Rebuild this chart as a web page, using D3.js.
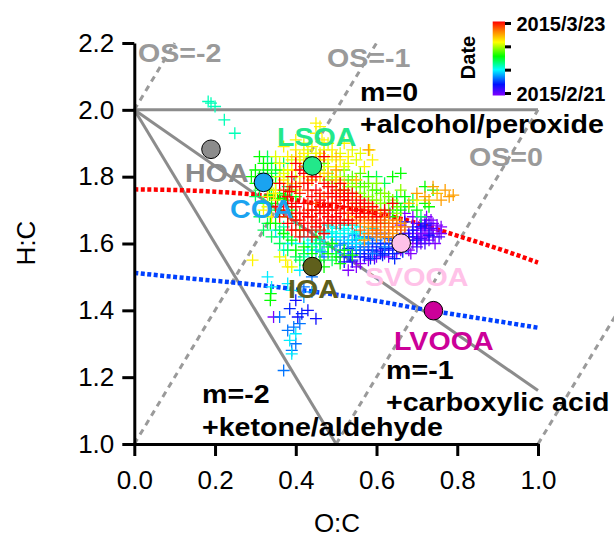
<!DOCTYPE html>
<html><head><meta charset="utf-8">
<script src="https://cdn.jsdelivr.net/npm/d3@7"></script>
<style>
body{margin:0;background:#fff}
svg{display:block;font-family:"Liberation Sans",Arial,sans-serif}
</style>
</head><body>
<svg id="chart" width="614" height="538"></svg>
<script>
// ---------------- data ----------------
const xTicks = [0.0, 0.2, 0.4, 0.6, 0.8, 1.0];
const yTicks = [1.0, 1.2, 1.4, 1.6, 1.8, 2.0, 2.2];
const xTitle = "O:C", yTitle = "H:C";

const factorNames  = ["HOA", "COA", "LSOA", "IOA", "SVOOA", "LVOOA"];
const factorOC     = [0.19, 0.32, 0.441, 0.441, 0.661, 0.741];
const factorHC     = [1.882, 1.783, 1.832, 1.531, 1.601, 1.399];
const factorColors = ["#8c8c8c", "#1aa3f0", "#22e88a", "#5f5f1c", "#ffc2e8", "#cc0099"];

// reference lines (O:C, H:C)
const slopeLines = [[[0, 2], [1, 2]], [[0, 2], [1, 1.16]], [[0, 2], [0.5, 1]]];
const osLines = [[[0, 2], [0.1, 2.2]], [[0, 1], [0.6, 2.2]], [[0.5, 1], [1.0, 2.0]], [[1.0, 1.0], [1.2, 1.4]]];
const redPath  = [[0,1.762],[0.1,1.760],[0.2,1.755],[0.31,1.745],[0.45,1.72],[0.6,1.69],[0.68,1.668],[0.75,1.642],[0.83,1.612],[0.92,1.577],[1.0,1.543]];
const bluePath = [[0,1.512],[0.15,1.494],[0.29,1.478],[0.45,1.455],[0.6,1.428],[0.72,1.402],[0.85,1.377],[1.0,1.348]];

const startDate = "2015-02-21", endDate = "2015-03-23";
const colorbarTickDays = [0, 10, 20, 30];

// scatter points by day offset from 2015/2/21 : [O:C, H:C]
const pts_day0 = [[0.70,1.64],[0.71,1.63],[0.72,1.65],[0.73,1.64],[0.74,1.63],[0.72,1.62],[0.70,1.62],[0.69,1.60],[0.71,1.60],[0.73,1.61],[0.75,1.64],[0.74,1.66],[0.72,1.67],[0.70,1.66],[0.68,1.63],[0.67,1.61],[0.66,1.58],[0.68,1.58],[0.65,1.57],[0.63,1.56],[0.60,1.56],[0.58,1.55],[0.56,1.54],[0.55,1.53],[0.53,1.52],[0.57,1.57],[0.61,1.58],[0.64,1.60],[0.735,1.67],[0.75,1.655],[0.76,1.63],[0.69,1.68],[0.67,1.69],[0.345,1.38],[0.66,1.655],[0.715,1.645],[0.725,1.625],[0.705,1.615],[0.724,1.68],[0.633,1.69],[0.745,1.60],[0.76,1.65],[0.685,1.57]];
const pts_day2 = [[0.69,1.65],[0.71,1.66],[0.73,1.66],[0.68,1.61],[0.70,1.59],[0.72,1.60],[0.74,1.62],[0.66,1.60],[0.64,1.585],[0.62,1.57],[0.595,1.555],[0.65,1.62],[0.67,1.63],[0.69,1.62],[0.71,1.615],[0.735,1.645],[0.755,1.62],[0.54,1.545],[0.56,1.56],[0.58,1.57]];
const pts_day4 = [[0.58,1.58],[0.60,1.59],[0.62,1.60],[0.64,1.61],[0.66,1.62],[0.68,1.62],[0.70,1.61],[0.61,1.57],[0.63,1.58],[0.57,1.56],[0.59,1.60],[0.65,1.59],[0.67,1.60],[0.69,1.64],[0.71,1.65],[0.62,1.63],[0.405,1.38],[0.45,1.375],[0.43,1.40],[0.40,1.43],[0.54,1.55],[0.52,1.545],[0.56,1.60],[0.72,1.655],[0.67,1.665],[0.73,1.625]];
const pts_day5 = [[0.56,1.57],[0.57,1.59],[0.59,1.58],[0.60,1.575],[0.62,1.585],[0.63,1.60],[0.61,1.60],[0.55,1.58],[0.53,1.585],[0.64,1.57],[0.66,1.59],[0.58,1.62],[0.60,1.63],[0.535,1.56],[0.51,1.56],[0.415,1.39],[0.385,1.405],[0.585,1.555],[0.615,1.565],[0.645,1.555],[0.665,1.575]];
const pts_day7 = [[0.52,1.60],[0.54,1.59],[0.56,1.58],[0.58,1.60],[0.60,1.61],[0.55,1.61],[0.57,1.62],[0.53,1.57],[0.59,1.57],[0.51,1.58],[0.62,1.59],[0.49,1.59],[0.47,1.56],[0.395,1.35],[0.40,1.30],[0.39,1.28],[0.38,1.34],[0.42,1.47],[0.44,1.50],[0.37,1.22],[0.36,1.38],[0.41,1.36],[0.61,1.62],[0.63,1.615],[0.545,1.625]];
const pts_day8 = [[0.50,1.61],[0.52,1.62],[0.53,1.60],[0.55,1.59],[0.57,1.60],[0.54,1.61],[0.56,1.62],[0.58,1.615],[0.49,1.62],[0.47,1.60],[0.45,1.58],[0.51,1.595],[0.465,1.575],[0.44,1.455],[0.42,1.44]];
const pts_day10 = [[0.48,1.63],[0.50,1.62],[0.52,1.64],[0.54,1.63],[0.56,1.65],[0.51,1.66],[0.53,1.61],[0.49,1.65],[0.46,1.61],[0.47,1.64],[0.55,1.60],[0.57,1.63],[0.45,1.60],[0.43,1.58],[0.41,1.52],[0.39,1.46],[0.38,1.48],[0.40,1.33],[0.385,1.31],[0.39,1.27],[0.33,1.50],[0.34,1.47],[0.36,1.62],[0.35,1.64],[0.38,1.60],[0.42,1.62],[0.59,1.645],[0.60,1.66]];
const pts_day11 = [[0.47,1.62],[0.49,1.635],[0.51,1.63],[0.53,1.645],[0.55,1.635],[0.50,1.645],[0.48,1.655],[0.52,1.655],[0.46,1.635],[0.44,1.61],[0.54,1.655],[0.56,1.615],[0.43,1.60],[0.40,1.60],[0.37,1.58]];
const pts_day12 = [[0.183,2.025],[0.20,2.01],[0.19,2.02],[0.223,1.97],[0.249,1.93],[0.42,1.56],[0.44,1.55],[0.46,1.58],[0.37,1.65],[0.40,1.66],[0.44,1.64],[0.50,1.57]];
const pts_day14 = [[0.31,1.76],[0.32,1.78],[0.30,1.74],[0.32,1.72],[0.31,1.68],[0.33,1.66],[0.32,1.64],[0.34,1.62],[0.36,1.60],[0.38,1.58],[0.40,1.56],[0.42,1.57],[0.44,1.59],[0.46,1.60],[0.48,1.59],[0.41,1.55],[0.45,1.545],[0.49,1.55],[0.35,1.70],[0.34,1.76],[0.33,1.79],[0.32,1.81],[0.35,1.81],[0.37,1.84],[0.34,1.84],[0.33,1.86],[0.38,1.77],[0.39,1.76],[0.36,1.64],[0.38,1.62],[0.61,1.70],[0.63,1.72],[0.65,1.74],[0.67,1.72],[0.69,1.73],[0.62,1.78],[0.60,1.80],[0.71,1.68],[0.64,1.70]];
const pts_day16 = [[0.30,1.82],[0.31,1.80],[0.32,1.84],[0.33,1.82],[0.34,1.80],[0.35,1.84],[0.30,1.78],[0.33,1.76],[0.35,1.78],[0.36,1.75],[0.34,1.72],[0.36,1.70],[0.38,1.68],[0.35,1.66],[0.37,1.63],[0.39,1.61],[0.40,1.58],[0.42,1.59],[0.44,1.57],[0.46,1.55],[0.48,1.57],[0.50,1.56],[0.52,1.58],[0.49,1.60],[0.45,1.62],[0.41,1.64],[0.39,1.70],[0.37,1.73],[0.29,1.80],[0.31,1.86],[0.36,1.82],[0.38,1.80],[0.40,1.74],[0.62,1.66],[0.64,1.68],[0.66,1.70],[0.68,1.71],[0.65,1.72],[0.67,1.74],[0.70,1.70],[0.72,1.72],[0.64,1.80],[0.66,1.81],[0.72,1.77],[0.74,1.76],[0.73,1.71],[0.56,1.77],[0.58,1.80],[0.60,1.76],[0.337,1.43],[0.338,1.45],[0.337,1.66],[0.47,1.53],[0.43,1.535],[0.51,1.54],[0.54,1.565],[0.335,1.745],[0.355,1.735],[0.375,1.745]];
const pts_day18 = [[0.49,1.80],[0.53,1.79],[0.55,1.78],[0.57,1.77],[0.59,1.76],[0.61,1.75],[0.57,1.74],[0.59,1.73],[0.55,1.75],[0.53,1.77],[0.51,1.76],[0.63,1.74],[0.62,1.72],[0.52,1.82],[0.54,1.80],[0.56,1.81],[0.58,1.78],[0.47,1.84],[0.45,1.83],[0.43,1.86],[0.65,1.71]];
const pts_day19 = [[0.50,1.78],[0.52,1.76],[0.54,1.77],[0.56,1.75],[0.58,1.74],[0.60,1.73],[0.53,1.74],[0.55,1.72],[0.57,1.71],[0.59,1.70],[0.61,1.72],[0.62,1.75],[0.51,1.80],[0.48,1.79],[0.63,1.70],[0.65,1.69],[0.46,1.82],[0.60,1.78],[0.64,1.73],[0.66,1.76]];
const pts_day21 = [[0.35,1.86],[0.37,1.81],[0.39,1.85],[0.41,1.86],[0.43,1.88],[0.45,1.87],[0.47,1.88],[0.49,1.86],[0.51,1.87],[0.53,1.84],[0.55,1.85],[0.44,1.84],[0.42,1.85],[0.46,1.85],[0.48,1.83],[0.50,1.80],[0.52,1.83],[0.40,1.80],[0.38,1.82],[0.36,1.80],[0.34,1.78],[0.54,1.88],[0.56,1.87],[0.42,1.90],[0.48,1.90],[0.35,1.73],[0.33,1.71],[0.40,1.76],[0.39,1.53],[0.36,1.56]];
const pts_day22 = [[0.36,1.84],[0.38,1.86],[0.40,1.88],[0.42,1.87],[0.44,1.89],[0.46,1.87],[0.48,1.85],[0.50,1.83],[0.39,1.82],[0.41,1.84],[0.43,1.83],[0.45,1.85],[0.47,1.81],[0.37,1.79],[0.35,1.76],[0.33,1.74],[0.32,1.70],[0.34,1.68],[0.49,1.88],[0.465,1.91],[0.45,1.93],[0.52,1.90],[0.53,1.86],[0.51,1.85],[0.37,1.89],[0.40,1.91],[0.43,1.80],[0.293,1.55],[0.38,1.53],[0.375,1.55],[0.57,1.83],[0.59,1.85],[0.70,1.73],[0.47,1.90],[0.45,1.96],[0.46,1.95],[0.583,1.88],[0.345,1.75]];
const pts_day24 = [[0.44,1.79],[0.46,1.80],[0.48,1.81],[0.42,1.83],[0.50,1.79],[0.52,1.78],[0.38,1.78],[0.55,1.79],[0.75,1.75],[0.73,1.73],[0.68,1.72],[0.40,1.86],[0.44,1.82],[0.46,1.86],[0.50,1.86]];
const pts_day25 = [[0.70,1.75],[0.72,1.74],[0.74,1.77],[0.77,1.76],[0.78,1.74],[0.79,1.745],[0.76,1.73],[0.60,1.66],[0.62,1.64],[0.58,1.65],[0.63,1.67],[0.65,1.65],[0.61,1.69],[0.59,1.68],[0.56,1.66],[0.54,1.68],[0.66,1.66],[0.64,1.63],[0.50,1.82],[0.58,1.88],[0.57,1.61],[0.41,1.78]];
const pts_day26 = [[0.58,1.67],[0.60,1.65],[0.62,1.66],[0.64,1.64],[0.63,1.62],[0.61,1.63],[0.65,1.67],[0.59,1.64],[0.57,1.66],[0.67,1.65],[0.66,1.62],[0.62,1.62],[0.60,1.62],[0.56,1.68],[0.58,1.63]];
const pts_day27 = [[0.57,1.68],[0.59,1.66],[0.61,1.67],[0.63,1.65],[0.55,1.67],[0.60,1.64],[0.62,1.68],[0.58,1.70],[0.64,1.66],[0.56,1.64],[0.53,1.69],[0.66,1.64]];
const pts_day28 = [[0.50,1.70],[0.52,1.69],[0.54,1.72],[0.56,1.71],[0.58,1.72],[0.60,1.70],[0.62,1.69],[0.57,1.70],[0.55,1.74],[0.53,1.71],[0.51,1.73],[0.49,1.72],[0.47,1.74],[0.45,1.72],[0.43,1.70],[0.41,1.67],[0.39,1.68],[0.59,1.67],[0.61,1.66],[0.48,1.66],[0.46,1.64]];
const pts_day29 = [[0.38,1.69],[0.40,1.64],[0.42,1.64],[0.44,1.66],[0.46,1.66],[0.48,1.70],[0.50,1.66],[0.52,1.67],[0.54,1.66],[0.56,1.68],[0.43,1.72],[0.45,1.70],[0.47,1.69],[0.49,1.74],[0.51,1.75],[0.53,1.75],[0.41,1.75],[0.43,1.76],[0.39,1.77],[0.37,1.76],[0.38,1.71],[0.36,1.68],[0.44,1.68],[0.40,1.69],[0.46,1.75],[0.48,1.77],[0.50,1.76],[0.44,1.80],[0.42,1.78],[0.57,1.69],[0.59,1.69],[0.55,1.70],[0.52,1.73]];
const pts_day30 = [[0.38,1.66],[0.39,1.64],[0.40,1.67],[0.41,1.69],[0.42,1.66],[0.43,1.68],[0.44,1.70],[0.45,1.67],[0.46,1.69],[0.47,1.71],[0.48,1.68],[0.49,1.70],[0.50,1.72],[0.51,1.69],[0.52,1.71],[0.53,1.73],[0.54,1.70],[0.55,1.72],[0.56,1.70],[0.57,1.72],[0.58,1.69],[0.42,1.72],[0.44,1.74],[0.46,1.73],[0.48,1.75],[0.50,1.74],[0.52,1.76],[0.43,1.64],[0.45,1.65],[0.47,1.66],[0.49,1.67],[0.51,1.66],[0.40,1.71],[0.41,1.62],[0.39,1.72],[0.45,1.76],[0.47,1.78],[0.49,1.77],[0.51,1.78],[0.53,1.67],[0.55,1.69],[0.43,1.78],[0.40,1.77],[0.38,1.74],[0.37,1.70],[0.44,1.62],[0.59,1.71],[0.60,1.68],[0.46,1.71],[0.50,1.68],[0.42,1.69],[0.48,1.72],[0.52,1.74],[0.54,1.75],[0.56,1.73],[0.41,1.82],[0.36,1.78],[0.62,1.70],[0.64,1.72],[0.47,1.63],[0.35,1.71],[0.45,1.80],[0.39,1.80],[0.42,1.81],[0.47,1.86],[0.40,1.84],[0.385,1.755]];

const scatterDays = [0, 2, 4, 5, 7, 8, 10, 11, 12, 14, 16, 18, 19, 21, 22, 24, 25, 26, 27, 28, 29, 30];
const scatterSets = [pts_day0, pts_day2, pts_day4, pts_day5, pts_day7, pts_day8, pts_day10, pts_day11, pts_day12, pts_day14, pts_day16, pts_day18, pts_day19, pts_day21, pts_day22, pts_day24, pts_day25, pts_day26, pts_day27, pts_day28, pts_day29, pts_day30];

// ---------------- drawing ----------------
const svg = d3.select("#chart");
const x = d3.scaleLinear().domain([0, 1]).range([134.3, 538]);
const y = d3.scaleLinear().domain([1, 2.2]).range([444, 43]);

const parse = d3.timeParse("%Y-%m-%d");
const t0 = parse(startDate), t1 = parse(endDate);
const tNorm = d3.scaleTime().domain([t0, t1]).range([0, 1]);
const rainbowStops = [0, 0.15, 0.35, 0.53, 0.72, 0.87, 1];
const rainbowCols = ["#8000ff", "#0010ff", "#00ffff", "#00ff00", "#ffff00", "#ff8000", "#ff0000"];
const rainbow = d3.scaleLinear().domain(rainbowStops).range(rainbowCols).interpolate(d3.interpolateRgb);

const line = d3.line().x(d => x(d[0])).y(d => y(d[1]));
const curve = d3.line().x(d => x(d[0])).y(d => y(d[1])).curve(d3.curveMonotoneX);

const gLines = svg.append("g");
slopeLines.forEach(l => gLines.append("path").attr("d", line(l))
  .attr("fill", "none").attr("stroke", "#8c8c8c").attr("stroke-width", 3));
osLines.forEach(l => gLines.append("path").attr("d", line(l))
  .attr("fill", "none").attr("stroke", "#9a9a9a").attr("stroke-width", 3).attr("stroke-dasharray", "6,5"));
gLines.append("path").attr("d", curve(redPath)).attr("fill", "none")
  .attr("stroke", "#ff0000").attr("stroke-width", 4.5).attr("stroke-dasharray", "4,2.5");
gLines.append("path").attr("d", curve(bluePath)).attr("fill", "none")
  .attr("stroke", "#0040ff").attr("stroke-width", 4.5).attr("stroke-dasharray", "4,2.5");

// scatter crosses
const gPts = svg.append("g");
scatterSets.forEach((set, i) => {
  const date = d3.timeDay.offset(t0, scatterDays[i]);
  const col = rainbow(tNorm(date));
  gPts.selectAll(null).data(set).enter().append("path")
    .attr("d", d => { const px = x(d[0]), py = y(d[1]);
      return `M${px-6},${py}H${px+6}M${px},${py-6}V${py+6}`; })
    .attr("stroke", col).attr("stroke-width", 1.3).attr("fill", "none");
});

// factor circles
svg.append("g").selectAll("circle").data(factorNames).enter().append("circle")
  .attr("cx", (d, i) => x(factorOC[i])).attr("cy", (d, i) => y(factorHC[i]))
  .attr("r", 9.3).attr("fill", (d, i) => factorColors[i])
  .attr("stroke", "#000").attr("stroke-width", 1);

// axes
const xAxis = d3.axisBottom(x).tickValues(xTicks).tickFormat(d3.format(".1f")).tickSize(12).tickSizeOuter(0).tickPadding(8);
const yAxis = d3.axisLeft(y).tickValues(yTicks).tickFormat(d3.format(".1f")).tickSize(12).tickSizeOuter(0).tickPadding(8);
const gx = svg.append("g").attr("transform", "translate(0,444)").call(xAxis);
const gy = svg.append("g").attr("transform", "translate(134.3,0)").call(yAxis);
[gx, gy].forEach(g => {
  g.select(".domain").attr("stroke", "#000").attr("stroke-width", 3);
  g.selectAll(".tick line").attr("stroke", "#000").attr("stroke-width", 3);
  g.selectAll(".tick text").attr("font-size", 26).attr("fill", "#000")
    .attr("font-family", "'Liberation Sans', Arial, sans-serif");
});
gx.selectAll(".tick text").attr("dy", "0.71em").attr("y", 27);
svg.append("text").attr("x", 337).attr("y", 532).attr("text-anchor", "middle")
  .attr("font-size", 26).text(xTitle);
svg.append("text").attr("transform", "translate(35,243) rotate(-90)").attr("text-anchor", "middle")
  .attr("font-size", 26).text(yTitle);

// annotations
const annos = [
  ["OS=-2", 138, 62, "#9a9a9a"], ["OS=-1", 327, 67, "#9a9a9a"], ["OS=0", 469, 166, "#9a9a9a"],
  ["m=0", 360, 101, "#000"], ["+alcohol/peroxide", 360, 133, "#000"],
  ["m=-1", 386, 379, "#000"], ["+carboxylic acid", 386, 411, "#000"],
  ["m=-2", 202, 403, "#000"], ["+ketone/aldehyde", 202, 436, "#000"],
];
const factorLabelPos = [[185, 182], [230, 218], [277, 146], [288, 298], [365, 286], [394, 350]];
factorNames.forEach((n, i) => annos.push([n, factorLabelPos[i][0], factorLabelPos[i][1], factorColors[i]]));
svg.append("g").selectAll("text").data(annos).enter().append("text")
  .attr("transform", d => `translate(${d[1]},${d[2]}) scale(1.1,1)`)
  .attr("font-size", 26).attr("font-weight", "bold").attr("fill", d => d[3]).text(d => d[0]);

// colorbar
const cb = svg.append("g");
const grad = svg.append("defs").append("linearGradient").attr("id", "rb")
  .attr("x1", 0).attr("y1", 1).attr("x2", 0).attr("y2", 0);
rainbowStops.forEach((s, i) => grad.append("stop").attr("offset", s).attr("stop-color", rainbowCols[i]));
const cbY = d3.scaleTime().domain([t0, t1]).range([93.5, 23.5]);
cb.append("rect").attr("x", 492.7).attr("y", 21.5).attr("width", 12.3).attr("height", 74).attr("fill", "url(#rb)");
const tickDates = colorbarTickDays.map(d => d3.timeDay.offset(t0, d));
cb.selectAll("line").data(tickDates).enter().append("line")
  .attr("x1", 505).attr("x2", 511).attr("y1", d => cbY(d)).attr("y2", d => cbY(d))
  .attr("stroke", "#000").attr("stroke-width", 3);
const fmt = d3.timeFormat("%Y/%-m/%-d");
[t1, t0].forEach(d => cb.append("text").attr("x", 516.5).attr("y", cbY(d) + 7.5)
  .attr("font-size", 20).attr("font-weight", "bold").text(fmt(d)));
cb.append("text").attr("transform", "translate(475,57.5) rotate(-90)").attr("text-anchor", "middle")
  .attr("font-size", 20).attr("font-weight", "bold").text("Date");
</script>
</body></html>
